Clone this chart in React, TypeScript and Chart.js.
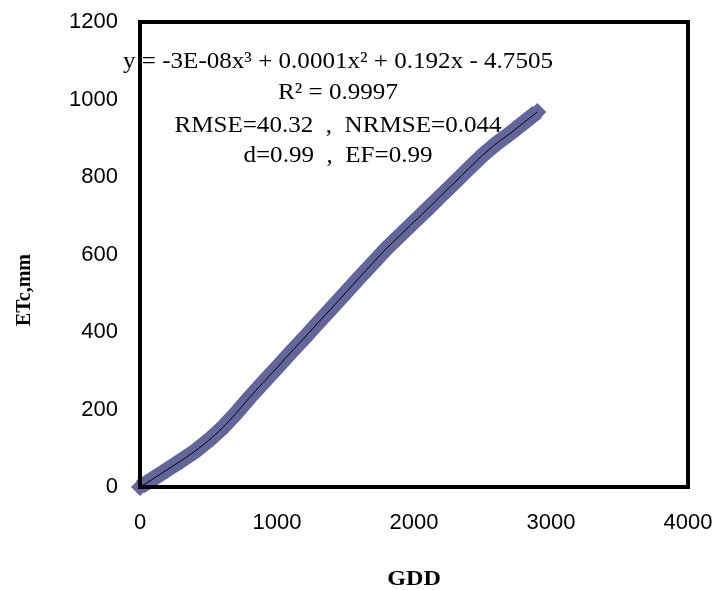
import React, { useEffect, useRef } from "react";
import { Chart, registerables } from "chart.js";

Chart.register(...registerables);

const gdd = [0, 100, 200, 300, 400, 500, 600, 700, 800, 900, 1000, 1100, 1200, 1300, 1400, 1500, 1600, 1700, 1800, 1900, 2000, 2100, 2200, 2300, 2400, 2500, 2600, 2700, 2800, 2900];
const etc = [0, 22, 45, 68, 92, 120, 152, 190, 231, 270, 308, 347, 385, 424, 462, 501, 540, 578, 616, 650, 684, 718, 753, 787, 822, 856, 886, 912, 940, 968];
const xTicks = [0, 1000, 2000, 3000, 4000];
const yTicks = [0, 200, 400, 600, 800, 1000, 1200];
const annotationLines = [
  "y = -3E-08x\u00B3 + 0.0001x\u00B2 + 0.192x - 4.7505",
  "R\u00B2 = 0.9997",
  "RMSE=40.32  ,  NRMSE=0.044",
  "d=0.99  ,  EF=0.99",
];
const xTitle = "GDD";
const yTitle = "ETc,mm";

const overlay = {
  id: "overlay",
  afterDraw(chart: any) {
    const { ctx, chartArea } = chart;
    ctx.save();
    ctx.strokeStyle = "#000";
    ctx.lineWidth = 4;
    ctx.strokeRect(chartArea.left, chartArea.top, chartArea.right - chartArea.left, chartArea.bottom - chartArea.top);
    ctx.fillStyle = "#000";
    ctx.textAlign = "center";
    ctx.textBaseline = "middle";
    ctx.font = "23px 'Liberation Serif'";
    const ys = [62, 93, 126, 156];
    annotationLines.forEach((t, i) => {
      ctx.save();
      ctx.translate(338, ys[i]);
      ctx.scale(1.09, 1);
      ctx.fillText(t, 0, 0);
      ctx.restore();
    });
    ctx.font = "bold 21px 'Liberation Serif'";
    ctx.save();
    ctx.translate((chartArea.left + chartArea.right) / 2, 580);
    ctx.scale(1.15, 1);
    ctx.fillText(xTitle, 0, 0);
    ctx.restore();
    ctx.font = "bold 20px 'Liberation Serif'";
    ctx.translate(25, 290);
    ctx.rotate(-Math.PI / 2);
    ctx.fillText(yTitle, 0, 0);
    ctx.restore();
  },
};

export default function App() {
  const ref = useRef<HTMLCanvasElement>(null);
  useEffect(() => {
    const pts = gdd.map((x, i) => ({ x, y: etc[i] }));
    const chart = new Chart(ref.current!, {
      type: "scatter",
      data: {
        datasets: [
          {
            data: pts,
            showLine: true,
            borderColor: "#64659B",
            backgroundColor: "#64659B",
            borderWidth: 15,
            pointStyle: "rectRot",
            pointRadius: 9,
            pointBorderWidth: 0,
            clip: false,
            order: 2,
          } as any,
          {
            data: pts,
            showLine: true,
            borderColor: "#000",
            borderWidth: 1,
            pointRadius: 0,
            tension: 0.4,
            order: 1,
          } as any,
        ],
      },
      options: {
        animation: false,
        responsive: false,
        layout: { padding: { left: 0, right: 32, top: 22, bottom: 0 } },
        plugins: { legend: { display: false }, tooltip: { enabled: false } },
        scales: {
          x: {
            type: "linear",
            min: 0,
            max: 4000,
            afterBuildTicks: (s: any) => { s.ticks = xTicks.map((v) => ({ value: v })); },
            afterFit: (s: any) => { s.height = 103; s.paddingLeft = 0; s.paddingRight = 0; },
            grid: { display: false, drawTicks: false },
            border: { display: false },
            ticks: { color: "#000", font: { family: "'Liberation Sans'", size: 22 }, padding: 23, callback: (v: any) => String(v) },
          },
          y: {
            type: "linear",
            min: 0,
            max: 1200,
            afterBuildTicks: (s: any) => { s.ticks = yTicks.map((v) => ({ value: v })); },
            afterFit: (s: any) => { s.width = 140; s.paddingTop = 0; s.paddingBottom = 0; },
            grid: { display: false, drawTicks: false },
            border: { display: false },
            ticks: { color: "#000", font: { family: "'Liberation Sans'", size: 22 }, padding: 22, callback: (v: any) => String(v) },
          },
        },
      },
      plugins: [overlay],
    });
    return () => chart.destroy();
  }, []);
  return (
    <div style={{ position: "fixed", left: 0, top: 0, width: 720, height: 590, background: "#fff" }}>
      <canvas ref={ref} width={720} height={590} style={{ width: 720, height: 590 }} />
    </div>
  );
}
